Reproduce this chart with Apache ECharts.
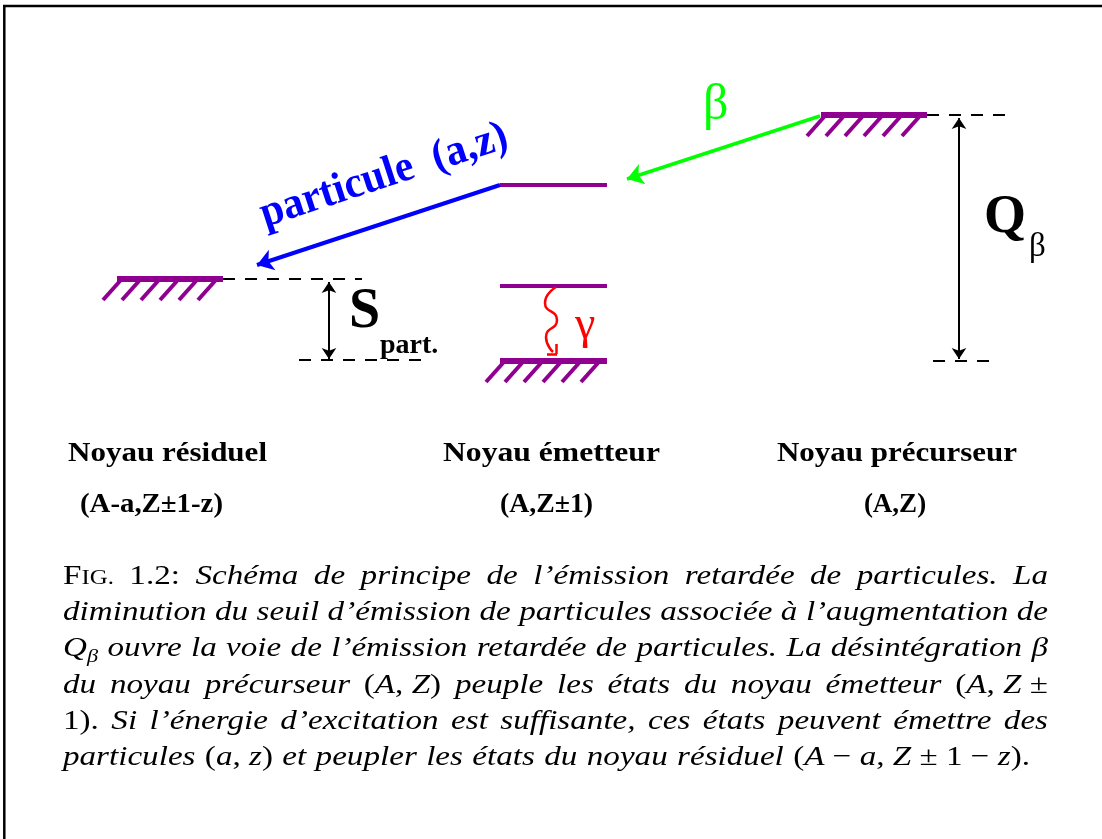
<!DOCTYPE html>
<html>
<head>
<meta charset="utf-8">
<script src="https://cdn.jsdelivr.net/npm/echarts@6/dist/echarts.min.js"></script>
<style>
  html, body { margin: 0; padding: 0; background: #fff; }
  #chart { width: 1102px; height: 839px; }
</style>
</head>
<body>
<div id="chart"></div>
<script>
// niveaux d'énergie (coordonnées du schéma, y vers le bas)
const levelNames = ['résiduel', 'émetteur haut', 'émetteur milieu', 'émetteur fond', 'précurseur']
const levelY = [279, 185, 286, 361, 115]
const levelStart = [117, 500, 500, 500, 821]
const levelEnd = [223, 607, 607, 607, 927]
const levelHatched = [true, false, false, true, true]

// pointillés de référence
const guideFrom = [[223, 279], [299, 360], [927, 115], [933, 361]]
const guideTo = [[362, 279], [430, 360], [1010, 115], [997, 361]]

// transitions
const betaArrow = [[820, 116], [627, 179]]
const particleArrow = [[500, 185], [257, 265]]
const sPartArrow = [[329, 282], [329, 359]]
const qBetaArrow = [[959, 118], [959, 359]]
const gammaPath = [[556, 287], [545, 303], [557, 320], [546, 337], [553, 352]]
const gammaHead = [[[556, 344], [556, 354]], [[547, 354], [557, 354]]]

// textes
const nucleusNames = ['Noyau résiduel', 'Noyau émetteur', 'Noyau précurseur']
const nucleusCodes = ['(A-a,Z±1-z)', '(A,Z±1)', '(A,Z)']

const captionLines = [
  [[['F', 'rm'], ['IG.', 'sc']], [['1.2:', 'rm']], 'Schéma', 'de', 'principe', 'de', 'l’émission', 'retardée', 'de', 'particules.', 'La'],
  'diminution du seuil d’émission de particules associée à l’augmentation de'.split(' '),
  [[['Q', 'it'], ['β', 'sub']], 'ouvre', 'la', 'voie', 'de', 'l’émission', 'retardée', 'de', 'particules.', 'La', 'désintégration', [['β', 'it']]],
  ['du', 'noyau', 'précurseur', [['(', 'rm'], ['A', 'it'], [', ', 'rm'], ['Z', 'it'], [')', 'rm']], 'peuple', 'les', 'états', 'du', 'noyau', 'émetteur',
    [['(', 'rm'], ['A', 'it'], [', ', 'rm'], ['Z', 'it'], [' ±', 'rm']]],
  [[['1).', 'rm']], 'Si', 'l’énergie', 'd’excitation', 'est', 'suffisante,', 'ces', 'états', 'peuvent', 'émettre', 'des'],
  ['particules', [['(', 'rm'], ['a', 'it'], [', ', 'rm'], ['z', 'it'], [')', 'rm']], 'et', 'peupler', 'les', 'états', 'du', 'noyau', 'résiduel',
    [['(', 'rm'], ['A', 'it'], [' − ', 'rm'], ['a', 'it'], [', ', 'rm'], ['Z', 'it'], [' ± 1 − ', 'rm'], ['z', 'it'], [').', 'rm']]]
]

const PURPLE = '#900090'
const FAMILY = 'Liberation Serif'
const MID = 0.31

const ctx = document.createElement('canvas').getContext('2d')
const textWidth = (str, style, weight, size) => {
  ctx.font = `${style} ${weight} ${size}px "${FAMILY}"`
  return ctx.measureText(str).width
}
const textStyle = (str, style, weight, size, fill, align) => ({
  text: str, fontFamily: FAMILY, fontStyle: style, fontWeight: weight, fontSize: size,
  fill: fill || '#000', align: align || 'left', verticalAlign: 'middle'
})

// texte posé sur sa ligne de base, étiré pour couvrir [left, right]
const fitted = (str, left, right, baseline, size, weight, fill) => ({
  type: 'text', x: left, y: baseline - MID * size, silent: true,
  scaleX: (right - left) / textWidth(str, 'normal', weight, size),
  style: textStyle(str, 'normal', weight, size, fill)
})
// texte centré, largeur naturelle
const centered = (str, cx, baseline, size, weight) => ({
  type: 'text', x: cx, y: baseline - MID * size, silent: true,
  style: textStyle(str, 'normal', weight, size, '#000', 'center')
})
const plain = (str, left, baseline, size, weight, fill, style) => ({
  type: 'text', x: left, y: baseline - MID * size, silent: true,
  style: textStyle(str, style || 'normal', weight, size, fill)
})

// légende justifiée
const runStyle = {
  rm: { style: 'normal', size: 28, off: 0 },
  it: { style: 'italic', size: 28, off: 0 },
  sc: { style: 'normal', size: 21, off: 0 },
  sub: { style: 'italic', size: 19, off: 6 }
}
const capLeft = 63
const capRight = [1048, 1048, 1048, 1048, 1048, 1030]
const capBase = [585, 621, 657, 694, 730, 766]
const wordGap = 12

const capWords = captionLines.map(line => line.map(w => (typeof w === 'string' ? [[w, 'it']] : w)))
const runW = ([t, k]) => textWidth(t, runStyle[k].style, 'normal', runStyle[k].size)
const capNatural = capWords.map(words => words.map(runs => runs.reduce((s, r) => s + runW(r), 0)))
// étirement horizontal commun, choisi pour que les espaces restent naturels
const lineScales = capNatural.slice(0, 5).map((ws, i) =>
  (capRight[i] - capLeft - (ws.length - 1) * wordGap) / ws.reduce((a, b) => a + b, 0))
const capScale = lineScales.reduce((a, b) => a + b, 0) / lineScales.length

const captionElements = []
capWords.forEach((words, li) => {
  const total = capNatural[li].reduce((a, b) => a + b, 0) * capScale
  const gap = (capRight[li] - capLeft - total) / (words.length - 1)
  let x = capLeft
  words.forEach(runs => {
    runs.forEach(run => {
      const r = runStyle[run[1]]
      captionElements.push({
        type: 'text', x, y: capBase[li] + r.off - MID * r.size, scaleX: capScale, silent: true,
        style: textStyle(run[0], r.style, 'normal', r.size)
      })
      x += runW(run) * capScale
    })
    x += gap
  })
})

// hachures sous les niveaux fondamentaux
const hatchSegments = []
levelY.forEach((y, i) => {
  if (!levelHatched[i]) return
  for (let k = 0; k < 6; k++) {
    const xt = levelStart[i] + 3 + k * 19
    hatchSegments.push({ coords: [[xt, y + 2], [xt - 17, y + 21]] })
  }
})

const particleLabel = 'particule  (a,z)'

const chart = echarts.init(document.getElementById('chart'))
chart.setOption({
  animation: false,
  backgroundColor: '#fff',
  grid: { left: 0, right: 0, top: 0, bottom: 0 },
  xAxis: { type: 'value', min: 0, max: 1102, show: false },
  yAxis: { type: 'value', min: 0, max: 839, inverse: true, show: false },
  series: [
    {
      type: 'lines', coordinateSystem: 'cartesian2d', silent: true,
      lineStyle: { color: PURPLE, width: 4, opacity: 1 },
      data: levelY.map((y, i) => ({
        name: levelNames[i],
        coords: [[levelStart[i], y], [levelEnd[i], y]],
        lineStyle: { width: levelHatched[i] ? 6 : 4 }
      }))
    },
    {
      type: 'lines', coordinateSystem: 'cartesian2d', silent: true,
      lineStyle: { color: PURPLE, width: 4, opacity: 1 },
      data: hatchSegments
    },
    {
      type: 'lines', coordinateSystem: 'cartesian2d', silent: true,
      lineStyle: { color: '#000', width: 2, type: [12, 10], opacity: 1 },
      data: guideFrom.map((p, i) => ({ coords: [p, guideTo[i]] }))
    },
    {
      type: 'lines', coordinateSystem: 'cartesian2d', silent: true,
      symbol: ['none', 'arrow'], symbolSize: 16,
      lineStyle: { color: '#00ff00', width: 3.5, opacity: 1 },
      data: [{ coords: betaArrow }]
    },
    {
      type: 'lines', coordinateSystem: 'cartesian2d', silent: true,
      symbol: ['none', 'arrow'], symbolSize: 16,
      lineStyle: { color: '#0000ff', width: 4, opacity: 1 },
      data: [{ coords: particleArrow }]
    },
    {
      type: 'lines', coordinateSystem: 'cartesian2d', silent: true,
      symbol: ['arrow', 'arrow'], symbolSize: 11,
      lineStyle: { color: '#000', width: 2, opacity: 1 },
      data: [{ coords: sPartArrow }, { coords: qBetaArrow }]
    },
    {
      type: 'line', silent: true, smooth: 0.6, showSymbol: false,
      lineStyle: { color: '#ff0000', width: 2.5 },
      data: gammaPath
    },
    {
      type: 'lines', coordinateSystem: 'cartesian2d', silent: true,
      lineStyle: { color: '#ff0000', width: 2.5, opacity: 1 },
      data: gammaHead.map(c => ({ coords: c }))
    }
  ],
  graphic: [
    { type: 'line', silent: true, shape: { x1: 3, y1: 6, x2: 1102, y2: 6 }, style: { stroke: '#000', lineWidth: 2.5 } },
    { type: 'line', silent: true, shape: { x1: 4.3, y1: 5, x2: 4.3, y2: 839 }, style: { stroke: '#000', lineWidth: 2.5 } },
    plain('β', 703, 121, 50, 'normal', '#00ff00'),
    {
      type: 'text', x: 384, y: 176, rotation: 0.316, silent: true,
      scaleX: 258 / textWidth(particleLabel, 'normal', 'bold', 44),
      style: textStyle(particleLabel, 'normal', 'bold', 44, '#0000ff', 'center')
    },
    plain('S', 349, 330, 56, 'bold'),
    plain('part.', 380, 354, 28, 'bold'),
    plain('γ', 575, 340, 46, 'normal', '#ff0000'),
    plain('Q', 984, 235, 54, 'bold'),
    plain('β', 1029, 258, 33, 'normal'),
    fitted(nucleusNames[0], 68, 267, 462, 27, 'bold'),
    fitted(nucleusNames[1], 443, 660, 462, 27, 'bold'),
    fitted(nucleusNames[2], 777, 1017, 462, 27, 'bold'),
    fitted(nucleusCodes[0], 80, 223, 513, 27, 'bold'),
    fitted(nucleusCodes[1], 500, 593, 513, 27, 'bold'),
    centered(nucleusCodes[2], 895, 513, 27, 'bold'),
    ...captionElements
  ]
})
</script>
</body>
</html>
